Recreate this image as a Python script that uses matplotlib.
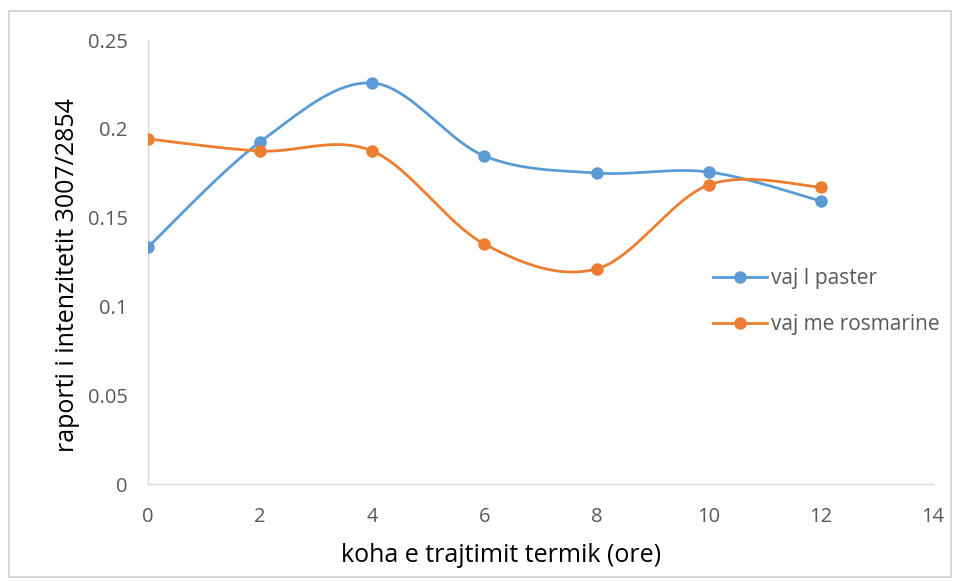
import numpy as np
import matplotlib
matplotlib.use("Agg")
import matplotlib.pyplot as plt
from matplotlib.lines import Line2D
from matplotlib.patches import Rectangle

plt.rcParams['font.family'] = ['Open Sans', 'DejaVu Sans']

hours = [0, 2, 4, 6, 8, 10, 12]
vaj_paster = [0.1334, 0.1926, 0.2258, 0.1847, 0.1751, 0.1757, 0.1593]
vaj_rosmarine = [0.1943, 0.1875, 0.1875, 0.1351, 0.1211, 0.1684, 0.1672]
series_names = ["vaj I paster", "vaj me rosmarine"]
colors = ["#5B9BD5", "#ED7D31"]
xticks = [0, 2, 4, 6, 8, 10, 12, 14]
yticks = [0, 0.05, 0.1, 0.15, 0.2, 0.25]
ytick_labels = ["0", "0.05", "0.1", "0.15", "0.2", "0.25"]
xlabel = "koha e trajtimit termik (ore)"
ylabel = "raporti i intenzitetit 3007/2854"


def smooth(x, y, n=40):
    """Excel-style smoothed line (Catmull-Rom Bezier)."""
    P = np.column_stack([x, y]).astype(float)
    m = len(P)
    out = []
    for i in range(m - 1):
        p0 = P[i - 1] if i > 0 else P[i]
        p1 = P[i]
        p2 = P[i + 1]
        p3 = P[i + 2] if i + 2 < m else P[i + 1]
        c1 = p1 + (p2 - p0) / 6.0
        c2 = p2 - (p3 - p1) / 6.0
        t = np.linspace(0, 1, n)[:, None]
        seg = ((1 - t) ** 3) * p1 + 3 * ((1 - t) ** 2) * t * c1 + 3 * (1 - t) * t ** 2 * c2 + t ** 3 * p2
        out.append(seg if i == 0 else seg[1:])
    a = np.vstack(out)
    return a[:, 0], a[:, 1]


W, H = 956, 582
fig = plt.figure(figsize=(W / 100, H / 100), dpi=100)
fig.patch.set_facecolor("white")

# outer chart border
fig.patches.append(Rectangle((9 / W, 1 - 577 / H), (951 - 9) / W, (577 - 11) / H,
                             transform=fig.transFigure, fill=False,
                             edgecolor="#D0D0D0", linewidth=1.2))

ax = fig.add_axes([148 / W, 1 - 484 / H, (933 - 148) / W, (484 - 40) / H])
ax.set_xlim(0, 14)
ax.set_ylim(0, 0.25)

for vals, name, col in zip([vaj_paster, vaj_rosmarine], series_names, colors):
    sx, sy = smooth(hours, vals)
    ax.plot(sx, sy, color=col, lw=2.0, solid_capstyle="round", zorder=3)
    ax.plot(hours, vals, 'o', color=col, markersize=8, zorder=4)

ax.set_xticks(xticks)
ax.set_xticklabels([str(v) for v in xticks])
ax.set_yticks(yticks)
ax.set_yticklabels(ytick_labels)
ax.tick_params(axis='both', length=0, labelsize=14.5, labelcolor="#595959")
ax.tick_params(axis='x', pad=16.5)
ax.tick_params(axis='y', pad=14.5)

for s in ["top", "right"]:
    ax.spines[s].set_visible(False)
for s in ["left", "bottom"]:
    ax.spines[s].set_color("#D9D9D9")
    ax.spines[s].set_linewidth(1.0)

fig.text(501 / W, 1 - 556 / H, xlabel, fontsize=18, color="#000000",
         ha="center", va="center")
fig.text(68 / W, 1 - 275 / H, ylabel, fontsize=18, color="#000000",
         ha="center", va="center", rotation=90)

handles = [Line2D([0], [0], color=c, lw=2.0, marker='o', markersize=8) for c in colors]
leg = ax.legend(handles, series_names, loc="upper left",
                bbox_to_anchor=(713 / W, 1 - 268 / H), bbox_transform=fig.transFigure,
                frameon=False, fontsize=15, labelcolor="#595959", borderpad=0,
                borderaxespad=0, handlelength=2.6, handletextpad=0.2, labelspacing=1.2)

fig.savefig("out.png", dpi=100, facecolor="white")
